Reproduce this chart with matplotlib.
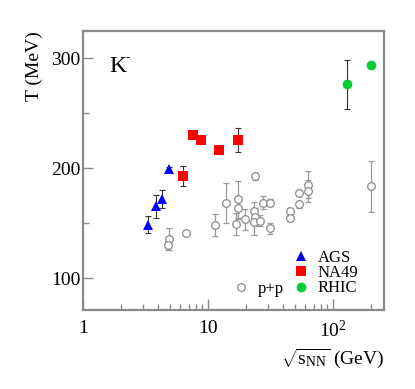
import matplotlib
matplotlib.use("Agg")
import matplotlib.pyplot as plt
from matplotlib.lines import Line2D
import numpy as np

plt.rcParams['font.family'] = ['Liberation Serif', 'DejaVu Serif']
plt.rcParams['mathtext.fontset'] = 'custom'
plt.rcParams['mathtext.rm'] = 'Liberation Serif'
plt.rcParams['mathtext.it'] = 'Liberation Serif:italic'

# AGS (K-)
ags_x = [3.33, 3.84, 4.31, 4.9]
ags_y = [148.8, 165.5, 172.1, 199.4]
ags_err = [7.5, 10.5, 8.0, 2.0]

# NA49
na49_x = [6.3, 7.6, 8.8, 12.3, 17.3]
na49_y = [192.7, 230.0, 226.0, 217.0, 226.0]
na49_err = [9.0, 2.0, 2.0, 2.0, 11.0]

# RHIC
rhic_x = [130.0, 200.0]
rhic_y = [276.4, 293.6]
rhic_err = [22.0, 2.0]

# p+p
pp_x = [4.85, 4.76, 6.67, 11.4, 14.0, 17.3, 17.3, 16.7, 19.9, 23.9, 23.2, 23.9,
        23.2, 26.1, 27.7, 31.2, 31.3, 45.6, 45.6, 53.5, 53.5, 63.5, 63.5, 200.0]
pp_y = [135.5, 130.3, 141.2, 148.2, 168.5, 171.8, 164.0, 149.4, 153.4, 192.7, 161.2, 155.7,
        150.9, 152.1, 168.8, 168.8, 145.5, 161.2, 154.8, 177.6, 167.3, 185.2, 179.1, 183.6]
pp_err = [10.0, 5.0, 1.0, 10.0, 18.0, 17.0, 10.0, 10.0, 10.0, 3.0, 8.0, 8.0,
          12.0, 5.0, 6.0, 3.0, 5.0, 3.0, 3.0, 3.0, 3.0, 12.0, 10.0, 23.0]

fig = plt.figure(figsize=(4.15, 3.89), dpi=100)
ax = fig.add_axes([83/415, 1-310/389, (384-83)/415, (310-31)/389])

ax.errorbar(pp_x, pp_y, yerr=pp_err, fmt='o', mfc='white', mec='#8c8c8c',
            ecolor='#9a9a9a', ms=5.5, mew=0.9, elinewidth=0.9, capsize=2.2, capthick=0.9, zorder=2)
ax.errorbar(ags_x, ags_y, yerr=ags_err, fmt='none', ecolor='#333333',
            elinewidth=0.8, capsize=2.2, capthick=0.8, zorder=3)
ax.plot(ags_x, ags_y, '^', color='#0000ff', ms=7.5, mew=0, zorder=4)
ax.errorbar(na49_x, na49_y, yerr=na49_err, fmt='none', ecolor='#333333',
            elinewidth=0.8, capsize=2.2, capthick=0.8, zorder=3)
ax.plot(na49_x, na49_y, 's', color='#ff0000', ms=7, mew=0, zorder=4)
ax.errorbar(rhic_x, rhic_y, yerr=rhic_err, fmt='none', ecolor='#333333',
            elinewidth=0.8, capsize=2.2, capthick=0.8, zorder=3)
ax.plot(rhic_x, rhic_y, 'o', color='#00cc33', ms=7, mew=0, zorder=4)

ax.set_xscale('log')
ax.set_xlim(1, 256)
ax.set_ylim(71, 325)
ax.set_xticks([1, 10, 100])
ax.set_xticklabels(['1', '10', r'$\mathrm{10}^{\mathrm{2}}$'])
ax.set_yticks([100, 200, 300])
ax.set_yticks([150, 250], minor=True)

frame_c = '#8a8a8a'
for s in ax.spines.values():
    s.set_color(frame_c)
    s.set_linewidth(1.6)
ax.tick_params(which='both', direction='in', color=frame_c, width=1.0,
               labelsize=14, top=False, right=False)
ax.tick_params(axis='x', which='major', length=8, pad=7)
ax.tick_params(axis='x', which='minor', length=4.5)
ax.tick_params(axis='y', which='major', length=7, pad=2)
ax.tick_params(axis='y', which='minor', length=4)

ax.set_ylabel('T (MeV)', fontsize=14, loc='top', labelpad=6)
ax.set_xlabel(r'$\sqrt{\mathrm{s}_{\mathrm{NN}}}$ (GeV)', fontsize=14, loc='right', labelpad=4)

ax.text(0.087, 0.91, 'K', transform=ax.transAxes, fontsize=17, va='top', ha='left')
ax.text(0.087 + 0.053, 0.925, '-', transform=ax.transAxes, fontsize=9, va='top', ha='left')

h_ags = Line2D([], [], ls='none', marker='^', color='#0000ff', ms=7.5, mew=0)
h_na49 = Line2D([], [], ls='none', marker='s', color='#ff0000', ms=7, mew=0)
h_rhic = Line2D([], [], ls='none', marker='o', color='#00cc33', ms=7, mew=0)
h_pp = Line2D([], [], ls='none', marker='o', mfc='white', mec='#8c8c8c', ms=5.5, mew=0.9)

leg1 = ax.legend([h_ags, h_na49, h_rhic], ['AGS', 'NA49', 'RHIC'],
                 loc='upper left', bbox_to_anchor=(293/415, 1-250/389),
                 bbox_transform=fig.transFigure, frameon=False, fontsize=12,
                 handlelength=1.0, handletextpad=0.5, labelspacing=-0.05,
                 borderpad=0, borderaxespad=0)
ax.add_artist(leg1)
ax.legend([h_pp], ['p+p'], loc='upper left', bbox_to_anchor=(233/415, 1-281/389),
          bbox_transform=fig.transFigure, frameon=False, fontsize=12,
          handlelength=1.0, handletextpad=0.5, borderpad=0, borderaxespad=0)

fig.savefig('out.png', dpi=100)
